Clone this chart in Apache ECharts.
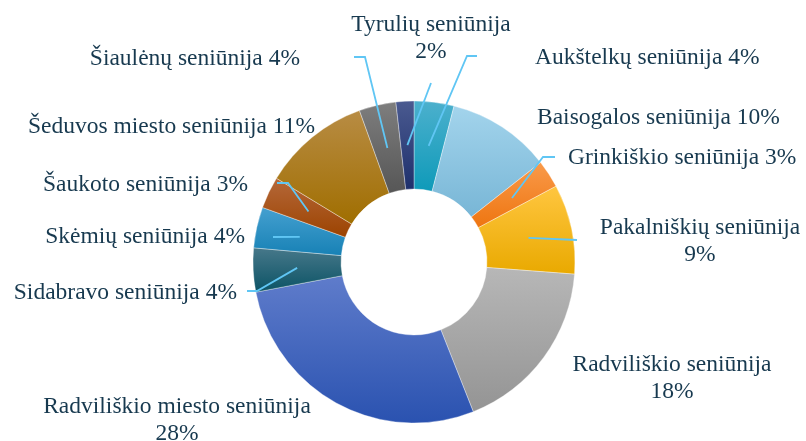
<!DOCTYPE html>
<html>
<head>
<meta charset="utf-8">
<script src="https://cdn.jsdelivr.net/npm/echarts@6/dist/echarts.min.js"></script>
<style>
html, body { margin: 0; padding: 0; background: #fff; }
#chart { width: 806px; height: 441px; }
</style>
</head>
<body>
<div id="chart"></div>
<script>
// seniūnijos, clockwise from 12 o'clock
var names = [
    'Aukštelkų seniūnija', 'Baisogalos seniūnija', 'Grinkiškio seniūnija',
    'Pakalniškių seniūnija', 'Radviliškio seniūnija', 'Radviliškio miesto seniūnija',
    'Sidabravo seniūnija', 'Skėmių seniūnija', 'Šaukoto seniūnija',
    'Šeduvos miesto seniūnija', 'Šiaulėnų seniūnija', 'Tyrulių seniūnija'
];
var values = [4, 10.4, 2.8, 9, 17.8, 28, 4.4, 4.1, 3.2, 10.8, 3.7, 1.8];

// gradient colours (top -> bottom)
var topColors = ['#4cb0cd', '#a3d4ec', '#f99a4a', '#ffc640', '#b7b7b7', '#5f7ccb',
                 '#47788a', '#45a0d0', '#b5683a', '#b88c44', '#7e7e7e', '#4a5a90'];
var bottomColors = ['#0e9ab9', '#78b6d6', '#ee7510', '#e9a900', '#949494', '#2a52b0',
                    '#0b5365', '#1781b5', '#9c4300', '#a06e00', '#565656', '#1e306c'];

// label placement: [x, y, align, twoLines, lineEndX, lineEndY, elbowX]
var spots = [
    [535, 58, 'left', false, 477, 56, 467],
    [537, 118, 'left', false],
    [568, 158, 'left', false, 555, 157, 543],
    [700, 241, 'center', true, 577, 240, null],
    [672, 378, 'center', true],
    [177, 420, 'center', true],
    [237, 293, 'right', false, 247, 291, 257],
    [245, 237, 'right', false, 273, 237, null],
    [248, 185, 'right', false, 277, 183, 288],
    [315, 127, 'right', false],
    [300, 59, 'right', false, 354, 57, 365],
    [431, 38, 'center', true, 431, 83, null]
];

var cx = 414, cy = 262;
var total = values.reduce(function (a, b) { return a + b; }, 0);

// leader line starts in the middle of the ring, at the slice's mid angle
function lineStart(i) {
    var before = 0;
    for (var k = 0; k < i; k++) before += values[k];
    var ang = (before + values[i] / 2) / total * Math.PI * 2;
    return [cx + 117 * Math.sin(ang), cy - 117 * Math.cos(ang)];
}

var pieData = names.map(function (n, i) {
    return {
        name: n,
        value: values[i],
        itemStyle: {
            color: new echarts.graphic.LinearGradient(0, 0, 0, 1, [
                { offset: 0, color: topColors[i] },
                { offset: 1, color: bottomColors[i] }
            ])
        }
    };
});

var leaders = [];
spots.forEach(function (s, i) {
    if (s[4] == null) return;
    var pts = [lineStart(i)];
    if (s[6] != null) pts.push([s[6], s[5]]);
    pts.push([s[4], s[5]]);
    leaders.push({
        type: 'polyline',
        z: 100,
        shape: { points: pts },
        style: { stroke: '#60c6f4', lineWidth: 1.8, fill: null }
    });
});

var myChart = echarts.init(document.getElementById('chart'));
var option = {
    animation: false,
    graphic: { elements: leaders },
    series: [{
        type: 'pie',
        center: [cx, cy],
        radius: [73, 161],
        startAngle: 90,
        percentPrecision: 0,
        avoidLabelOverlap: false,
        itemStyle: { borderColor: 'rgba(255,255,255,0.6)', borderWidth: 0.6 },
        label: {
            show: true,
            position: 'outside',
            fontFamily: 'Liberation Serif',
            fontSize: 23.5,
            lineHeight: 27,
            color: '#17394f',
            formatter: function (p) {
                return p.name + (spots[p.dataIndex][3] ? '\n' : ' ') + p.percent + '%';
            }
        },
        labelLine: { show: false },
        labelLayout: function (params) {
            var s = spots[params.dataIndex];
            return { x: s[0], y: s[1], align: s[2], verticalAlign: 'middle' };
        },
        data: pieData
    }]
};
myChart.setOption(option);
</script>
</body>
</html>
